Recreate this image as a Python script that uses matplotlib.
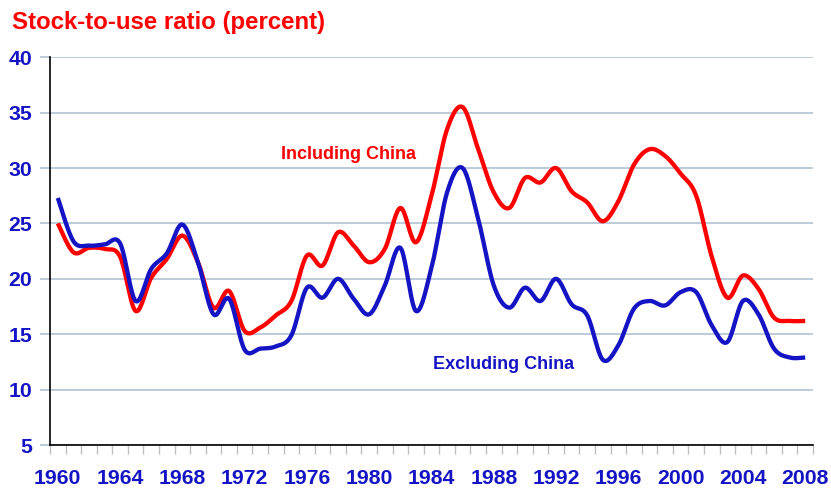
# Stock-to-use ratio, including vs excluding China

import numpy as np
import matplotlib
matplotlib.use('Agg')
import matplotlib.pyplot as plt
from matplotlib.ticker import MultipleLocator

years = list(range(1960, 2009))

incl_china = [25.0, 22.4, 22.8, 22.7, 22.0, 17.1, 20.1, 21.8, 23.9, 21.5,
              17.4, 18.9, 15.3, 15.6, 16.7, 18.0, 22.1, 21.2, 24.2, 23.0,
              21.5, 22.7, 26.4, 23.3, 27.5, 33.5, 35.5, 31.7, 27.8, 26.4,
              29.1, 28.7, 30.0, 27.9, 26.9, 25.2, 27.0, 30.3, 31.7, 31.1,
              29.5, 27.5, 22.0, 18.3, 20.3, 19.1, 16.5, 16.2, 16.2]

excl_china = [27.3, 23.4, 23.0, 23.1, 23.2, 18.0, 20.9, 22.3, 24.9, 21.5,
              16.8, 18.2, 13.6, 13.7, 13.9, 14.9, 19.2, 18.3, 20.0, 18.2,
              16.8, 19.4, 22.8, 17.1, 21.0, 27.8, 30.0, 25.4, 19.4, 17.4,
              19.2, 18.0, 20.0, 17.7, 16.7, 12.7, 14.0, 17.3, 18.0, 17.6,
              18.8, 18.8, 15.8, 14.3, 18.0, 16.8, 13.7, 12.9, 12.9]

label_years = list(range(1960, 2009, 4))

RED = '#ff0000'
BLUE = '#1414c4'
GRID = '#b0c2d4'


def smooth(x, y, n=20):
    # excel-style smoothed line (bezier through the points)
    x = np.asarray(x, float)
    y = np.asarray(y, float)
    px = np.concatenate([[x[0]], x, [x[-1]]])
    py = np.concatenate([[y[0]], y, [y[-1]]])
    t = np.linspace(0, 1, n, endpoint=False)[:, None]
    xs, ys = [], []
    for i in range(1, len(px) - 2):
        p0 = np.array([px[i], py[i]])
        p3 = np.array([px[i + 1], py[i + 1]])
        c1 = p0 + (p3 - np.array([px[i - 1], py[i - 1]])) / 6
        c2 = p3 - (np.array([px[i + 2], py[i + 2]]) - p0) / 6
        pts = ((1 - t) ** 3 * p0 + 3 * (1 - t) ** 2 * t * c1
               + 3 * (1 - t) * t ** 2 * c2 + t ** 3 * p3)
        xs.append(pts[:, 0])
        ys.append(pts[:, 1])
    xs.append([x[-1]])
    ys.append([y[-1]])
    return np.concatenate(xs), np.concatenate(ys)


plt.rcParams['font.family'] = ['Liberation Sans', 'DejaVu Sans']

fig = plt.figure(figsize=(8.31, 4.90), dpi=100)
ax = fig.add_axes([0.0602, 0.0918, 0.9181, 0.7913])

ax.set_xlim(1959.5, 2008.5)
ax.set_ylim(5, 40)

ax.yaxis.set_major_locator(MultipleLocator(5))
ax.grid(axis='y', color=GRID, linewidth=1.2, zorder=0)
ax.set_axisbelow(True)

sx, sy = smooth(years, incl_china)
ax.plot(sx, sy, color=RED, linewidth=3.1, solid_capstyle='butt', zorder=3)
sx, sy = smooth(years, excl_china)
ax.plot(sx, sy, color=BLUE, linewidth=3.1, solid_capstyle='butt', zorder=4)

# year ticks between categories, labels every 4 years
ax.set_xticks(np.arange(1959.5, 2009.0, 1.0), minor=True)
ax.set_xticks(label_years)
ax.set_xticklabels([str(y) for y in label_years])
ax.tick_params(axis='x', which='minor', length=6.5, color='#c0c0c0', width=1)
ax.tick_params(axis='x', which='major', length=0, pad=17)
ax.tick_params(axis='y', length=7, color=GRID, width=1.2, pad=6)

for lab in ax.get_xticklabels() + ax.get_yticklabels():
    lab.set_fontsize(15.3)
    lab.set_fontweight('bold')
    lab.set_color(BLUE)

for s in ['top', 'right']:
    ax.spines[s].set_visible(False)
ax.spines['left'].set_color('black')
ax.spines['bottom'].set_color('black')
ax.spines['left'].set_linewidth(1.2)
ax.spines['bottom'].set_linewidth(1.2)

ax.text(1978.7, 31.2, 'Including China', color=RED, fontsize=13,
        fontweight='bold', ha='center', va='center')
ax.text(1988.6, 12.3, 'Excluding China', color=BLUE, fontsize=13,
        fontweight='bold', ha='center', va='center')

fig.text(12 / 831, 1 - 23 / 490, 'Stock-to-use ratio (percent)', color=RED,
         fontsize=17.3, fontweight='bold', ha='left', va='center')

fig.savefig('out.png', dpi=100)
